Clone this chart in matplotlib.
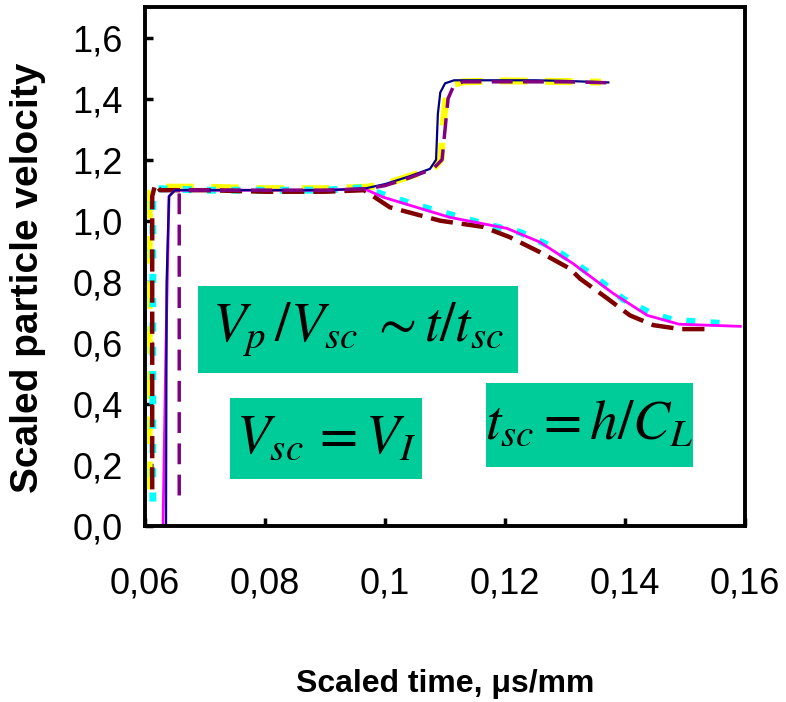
import matplotlib
matplotlib.use('Agg')
import matplotlib.pyplot as plt
from matplotlib.patches import Rectangle

plt.rcParams['font.family'] = ['Liberation Sans', 'DejaVu Sans']
plt.rcParams['mathtext.fontset'] = 'stix'

# upper branch (velocity jumps up to ~1.46)
navy_x = [0.0635, 0.0636, 0.0640, 0.0650, 0.070, 0.080, 0.090, 0.0965, 0.100, 0.104, 0.1075,
          0.1085, 0.1088, 0.1092, 0.1100, 0.1115, 0.115, 0.120, 0.125, 0.130, 0.1372]
navy_y = [0.0, 0.8, 1.08, 1.10, 1.10, 1.10, 1.10, 1.105, 1.12, 1.145, 1.17,
          1.20, 1.35, 1.42, 1.45, 1.46, 1.46, 1.46, 1.46, 1.458, 1.453]

purple_x = [0.0657, 0.0657, 0.0665, 0.070, 0.080, 0.090, 0.097, 0.100, 0.104, 0.108,
            0.1095, 0.1100, 0.1105, 0.1115, 0.113, 0.120, 0.130, 0.1372]
purple_y = [0.10, 1.09, 1.10, 1.10, 1.10, 1.10, 1.105, 1.115, 1.14, 1.17,
            1.20, 1.30, 1.40, 1.445, 1.455, 1.455, 1.455, 1.452]

yellow_x = [0.0607, 0.0607, 0.0615, 0.070, 0.080, 0.090, 0.097, 0.100, 0.104, 0.108,
            0.1093, 0.1097, 0.1102, 0.1112, 0.113, 0.120, 0.130, 0.136]
yellow_y = [0.12, 1.09, 1.11, 1.11, 1.105, 1.105, 1.11, 1.12, 1.145, 1.17,
            1.20, 1.32, 1.41, 1.445, 1.455, 1.458, 1.456, 1.454]

# lower branch (velocity drops to ~0.65)
cyan_x = [0.0613, 0.0613, 0.0620, 0.070, 0.080, 0.090, 0.0963, 0.1005, 0.1053, 0.1108, 0.1163,
          0.1225, 0.1272, 0.1317, 0.1353, 0.1397, 0.1442, 0.148, 0.1525, 0.158]
cyan_y = [0.08, 1.09, 1.105, 1.10, 1.10, 1.10, 1.108, 1.08, 1.05, 1.02, 0.99,
          0.962, 0.92, 0.86, 0.81, 0.743, 0.697, 0.674, 0.668, 0.661]

magenta_x = [0.0630, 0.0635, 0.0640, 0.0650, 0.070, 0.080, 0.090, 0.0965, 0.0997, 0.1108,
             0.1203, 0.1258, 0.1313, 0.138, 0.1437, 0.149, 0.1592]
magenta_y = [0.0, 0.6, 1.08, 1.10, 1.10, 1.10, 1.10, 1.105, 1.077, 1.011,
             0.975, 0.93, 0.86, 0.762, 0.69, 0.661, 0.654]

maroon_x = [0.0612, 0.0612, 0.0617, 0.0625, 0.070, 0.080, 0.090, 0.0965, 0.1008, 0.1092,
            0.1163, 0.1208, 0.1258, 0.1308, 0.1325, 0.137, 0.1408, 0.1447, 0.1492, 0.1537]
maroon_y = [0.12, 1.08, 1.12, 1.10, 1.10, 1.095, 1.095, 1.10, 1.044, 1.0,
            0.98, 0.946, 0.897, 0.843, 0.81, 0.746, 0.69, 0.658, 0.645, 0.645]

xticks = [0.06, 0.08, 0.10, 0.12, 0.14, 0.16]
xtick_labels = ['0,06', '0,08', '0,1', '0,12', '0,14', '0,16']
yticks = [0.0, 0.2, 0.4, 0.6, 0.8, 1.0, 1.2, 1.4, 1.6]
ytick_labels = ['0,0', '0,2', '0,4', '0,6', '0,8', '1,0', '1,2', '1,4', '1,6']

fig = plt.figure(figsize=(7.86, 7.02), dpi=100)
ax = fig.add_axes([0.1845, 0.2507, 0.7635, 0.7393])

ax.plot(yellow_x, yellow_y, color='#FFFF00', lw=5, dashes=(4, 2.5))
ax.plot(cyan_x, cyan_y, color='#00FFFF', lw=5, dashes=(1.3, 2.2))
ax.plot(maroon_x, maroon_y, color='#800000', lw=3.2, dashes=(5, 2))
ax.plot(magenta_x, magenta_y, color='#FF00FF', lw=2)
ax.plot(navy_x, navy_y, color='#000080', lw=1.6)
ax.plot(purple_x, purple_y, color='#800080', lw=2.5, dashes=(6, 3))

ax.set_xlim(0.06, 0.16)
ax.set_ylim(0, 1.7)
ax.set_xticks(xticks)
ax.set_xticklabels(xtick_labels)
ax.set_yticks(yticks)
ax.set_yticklabels(ytick_labels)
ax.tick_params(axis='both', direction='in', length=6, width=2.5, labelsize=26)
ax.tick_params(axis='x', pad=29)
ax.tick_params(axis='y', pad=16)
for s in ax.spines.values():
    s.set_linewidth(2.8)

ax.set_xlabel('Scaled time, \u03bcs/mm', fontsize=23, fontweight='bold', labelpad=49)
ax.set_ylabel('Scaled particle velocity', fontsize=28, fontweight='bold')
ax.yaxis.set_label_coords(-0.165, 0.478)

green = '#00CC99'
boxes = [
    ((0.088, 0.295), 0.534, 0.167, r'$V_p\,/V_{sc}\;\sim t/t_{sc}$'),
    ((0.142, 0.091), 0.320, 0.156, r'$V_{sc}\,=V_I$'),
    ((0.568, 0.114), 0.345, 0.162, r'$t_{sc}=h/C_L$'),
]
for (x0, y0), w, h, txt in boxes:
    ax.add_patch(Rectangle((x0, y0), w, h, transform=ax.transAxes, facecolor=green,
                           edgecolor='none', zorder=5))
    ax.text(x0 + w / 2, y0 + h / 2, txt, transform=ax.transAxes, ha='center', va='center',
            fontsize=40, zorder=6)

plt.savefig('out.png')
